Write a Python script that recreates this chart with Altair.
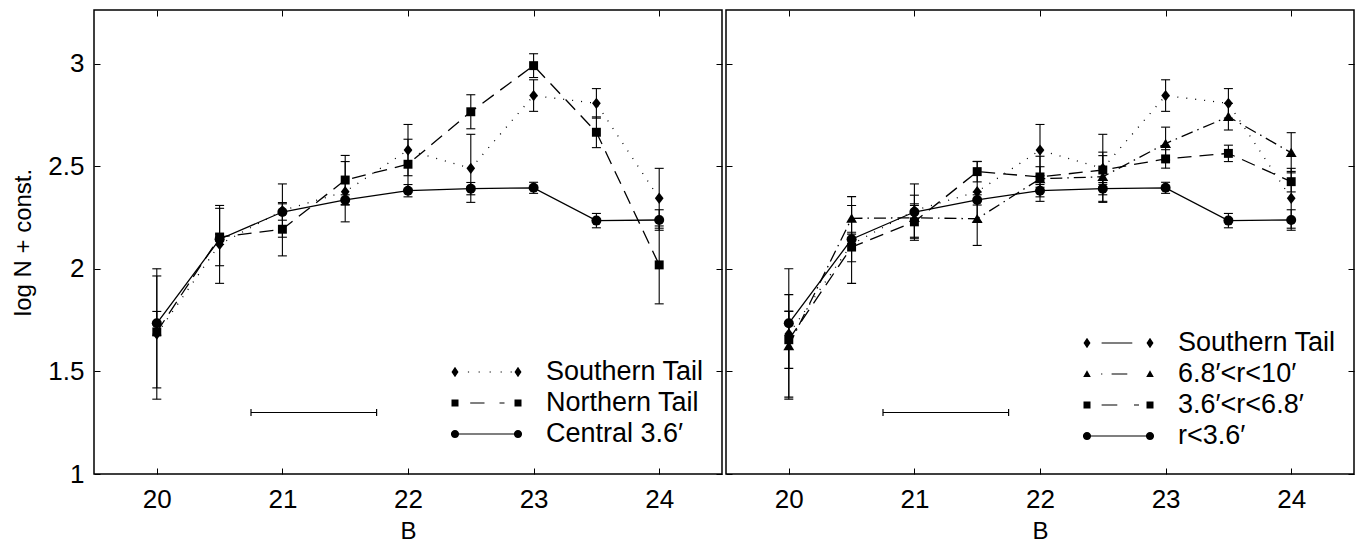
import altair as alt
import pandas as pd

# ---------------- data ----------------
B = [20, 20.5, 21, 21.5, 22, 22.5, 23, 23.5, 24]

south_v = [1.683, 2.120, 2.285, 2.377, 2.580, 2.491, 2.846, 2.808, 2.345]
south_e = [0.318, 0.190, 0.130, 0.147, 0.125, 0.166, 0.077, 0.072, 0.146]

north_v = [1.693, 2.156, 2.194, 2.434, 2.511, 2.767, 2.992, 2.667, 2.020]
north_e = [0.273, 0.140, 0.130, 0.120, 0.122, 0.083, 0.058, 0.075, 0.190]

central_v = [1.735, 2.145, 2.278, 2.337, 2.382, 2.392, 2.396, 2.236, 2.239]
central_e = [0.058, 0.025, 0.040, 0.025, 0.030, 0.030, 0.027, 0.035, 0.050]

outer_v = [1.625, 2.247, 2.250, 2.245, 2.440, 2.450, 2.612, 2.743, 2.567]
outer_e = [0.250, 0.106, 0.110, 0.130, 0.110, 0.120, 0.080, 0.065, 0.098]

mid_v = [1.655, 2.107, 2.230, 2.475, 2.449, 2.483, 2.537, 2.564, 2.426]
mid_e = [0.140, 0.072, 0.080, 0.050, 0.050, 0.070, 0.045, 0.040, 0.050]

bar_x = [20.75, 21.75]
bar_y = [1.3, 1.3]

x_ticks = [20, 21, 22, 23, 24]
y_ticks = [1, 1.5, 2, 2.5, 3]

left_labels = ["Southern Tail", "Northern Tail", "Central 3.6\u2032"]
right_labels = ["Southern Tail", "6.8\u2032<r<10\u2032", "3.6\u2032<r<6.8\u2032", "r<3.6\u2032"]

# ---------------- styles ----------------
FONT = "Liberation Sans"
FS = 26
W, H = 628, 464
xs = alt.Scale(domain=[19.5, 24.5], nice=False, zero=False)
ys = alt.Scale(domain=[1, 3.2634], nice=False, zero=False)

DIAMOND = "M0,-1L0.77,0L0,1L-0.77,0Z"
TRIANGLE = "M0,-0.9L1,0.8L-1,0.8Z"

# legend glyphs: custom symbol paths (unit = U px, legend symbolSize = (2U)^2),
# built only from filled shapes so that no stroke is needed
U = 5.0
S = 31.5
T = 0.6  # half thickness of the legend line pieces, px


def f(v):
    return f"{v / U:.3f}"


def seg(a, b):
    return f"M{f(a)},{f(-T)}L{f(b)},{f(-T)}L{f(b)},{f(T)}L{f(a)},{f(T)}Z"


def dots(xs_):
    return "".join(seg(x - 0.6, x + 0.6) for x in xs_)


def g_diamond(cx, hw=3.5, hh=5.3):
    return f"M{f(cx)},{f(-hh)}L{f(cx + hw)},0L{f(cx)},{f(hh)}L{f(cx - hw)},0Z"


def g_square(cx, h=3.5):
    return f"M{f(cx - h)},{f(-h)}L{f(cx + h)},{f(-h)}L{f(cx + h)},{f(h)}L{f(cx - h)},{f(h)}Z"


def g_circle(cx, r=4.1):
    return (f"M{f(cx + r)},0A{f(r)},{f(r)} 0 1,1 {f(cx - r)},0"
            f"A{f(r)},{f(r)} 0 1,1 {f(cx + r)},0Z")


def g_triangle(cx, hw=3.8, top=-3.7, bot=2.9):
    return f"M{f(cx)},{f(top)}L{f(cx + hw)},{f(bot)}L{f(cx - hw)},{f(bot)}Z"


left_glyphs = [
    g_diamond(-S) + g_diamond(S) + dots([-18, -7.3, 3.7, 14.7, 24.7]),
    g_square(-S) + g_square(S) + seg(-16.3, -2) + seg(13, 18),
    seg(-S, S) + g_circle(-S) + g_circle(S),
]
right_glyphs = [
    g_diamond(-S) + g_diamond(S) + seg(-16.9, 13.8),
    g_triangle(-S) + g_triangle(S) + seg(-17.4, -16.2) + seg(-6.9, 8.8),
    g_square(-S) + g_square(S) + seg(-16.9, -1.2) + seg(15.5, 20.5),
    seg(-S, S) + g_circle(-S) + g_circle(S),
]


def tick_axis(orient, values, labels=False, title=None, fmt=None, pad=10, tpad=6, tfs=FS):
    # ticks drawn inside the frame: axis pulled inward by its own tick length
    kw = dict(orient=orient, values=values, domain=False, grid=False, ticks=True,
              tickSize=6, tickColor="black", tickWidth=1, offset=-6, labels=labels, title=title)
    if labels:
        kw.update(labelFont=FONT, labelFontSize=FS, labelColor="black", format=fmt,
                  labelFlush=False, labelOverlap=False, labelPadding=pad)
    if title:
        kw.update(titleFont=FONT, titleFontSize=tfs, titleFontWeight="normal",
                  titleColor="black", titlePadding=tpad)
    return alt.Axis(**kw)


def series_layers(vals, errs, shape, size, dash=None):
    df = pd.DataFrame({
        "B": B, "v": vals,
        "lo": [v - e for v, e in zip(vals, errs)],
        "hi": [v + e for v, e in zip(vals, errs)],
    })
    base = alt.Chart(df)
    X = alt.X("B:Q", scale=xs, axis=None)
    out = [
        base.mark_rule(color="black", strokeWidth=1.1).encode(
            x=X, y=alt.Y("lo:Q", scale=ys, axis=None), y2="hi:Q"),
        base.mark_tick(orient="horizontal", size=9, thickness=1.1, color="black", opacity=1).encode(
            x=X, y=alt.Y("lo:Q", scale=ys, axis=None)),
        base.mark_tick(orient="horizontal", size=9, thickness=1.1, color="black", opacity=1).encode(
            x=X, y=alt.Y("hi:Q", scale=ys, axis=None)),
    ]
    line_kw = dict(color="black", strokeWidth=1.3)
    if dash:
        line_kw["strokeDash"] = dash
    out.append(base.mark_line(**line_kw).encode(x=X, y=alt.Y("v:Q", scale=ys, axis=None)))
    out.append(base.mark_point(shape=shape, size=size, filled=True, color="black", opacity=1).encode(
        x=X, y=alt.Y("v:Q", scale=ys, axis=None)))
    return out


def panel(series, show_ylabels, field, labels, glyphs, legend_y):
    bar_df = pd.DataFrame({"x1": [bar_x[0]], "x2": [bar_x[1]], "y": [bar_y[0]]})
    end_df = pd.DataFrame({"x": bar_x, "y": bar_y})
    if show_ylabels:
        yax = tick_axis("left", y_ticks, labels=True, title="log N + const.", fmt="~g",
                        pad=10, tpad=12, tfs=24)
    else:
        yax = tick_axis("left", y_ticks)
    main = alt.Chart(bar_df).mark_rule(color="black", strokeWidth=1.2).encode(
        x=alt.X("x1:Q", scale=xs, axis=tick_axis("bottom", x_ticks, labels=True, title="B",
                                                    fmt="d", pad=12, tpad=7, tfs=24)),
        x2="x2:Q",
        y=alt.Y("y:Q", scale=ys, axis=yax),
    )
    frame = alt.Chart(bar_df).mark_rule(opacity=0).encode(
        x=alt.X("x1:Q", scale=xs, axis=tick_axis("top", x_ticks)),
        x2="x2:Q",
        y=alt.Y("y:Q", scale=ys, axis=tick_axis("right", y_ticks)),
    )
    ends = alt.Chart(end_df).mark_tick(orient="vertical", size=7, thickness=1.2, color="black", opacity=1).encode(
        x=alt.X("x:Q", scale=xs, axis=None), y=alt.Y("y:Q", scale=ys, axis=None))
    layers = [main, frame, ends]
    for s in series:
        layers += series_layers(*s)
    leg_df = pd.DataFrame({field: labels})
    legend = alt.Chart(leg_df).mark_point(filled=True, color="black", opacity=1).encode(
        shape=alt.Shape(f"{field}:N", scale=alt.Scale(domain=labels, range=glyphs),
                        legend=alt.Legend(title=None, orient="none", legendX=379, legendY=legend_y,
                                          symbolSize=(2 * U) ** 2,
                                          symbolFillColor="black", symbolOpacity=1, symbolOffset=0,
                                          labelFont=FONT, labelFontSize=27, labelColor="black",
                                          labelLimit=500, labelOffset=46, rowPadding=3, padding=0))
    ).transform_filter("false")
    layers.append(legend)
    return alt.layer(*layers).resolve_axis(x="independent", y="independent").properties(width=W, height=H)


DOT = [1, 8]
DASH = [14, 8]
DASHDOT = [12, 5, 1.5, 5]

left = panel([
    (south_v, south_e, DIAMOND, 128, DOT),
    (north_v, north_e, "square", 80, DASH),
    (central_v, central_e, "circle", 100, None),
], True, "lgL", left_labels, left_glyphs, 348.5)

right = panel([
    (south_v, south_e, DIAMOND, 128, DOT),
    (outer_v, outer_e, TRIANGLE, 118, DASHDOT),
    (mid_v, mid_e, "square", 80, DASH),
    (central_v, central_e, "circle", 100, None),
], False, "lgR", right_labels, right_glyphs, 319.5)

chart = (
    alt.hconcat(left, right, spacing=0)
    .resolve_scale(shape="independent")
    .properties(padding={"left": 3, "top": 0, "right": 0, "bottom": 0}, background="white")
    .configure_view(stroke="black", strokeWidth=1.5)
)

chart.save("out.html", embed_options={"renderer": "svg", "actions": False})
